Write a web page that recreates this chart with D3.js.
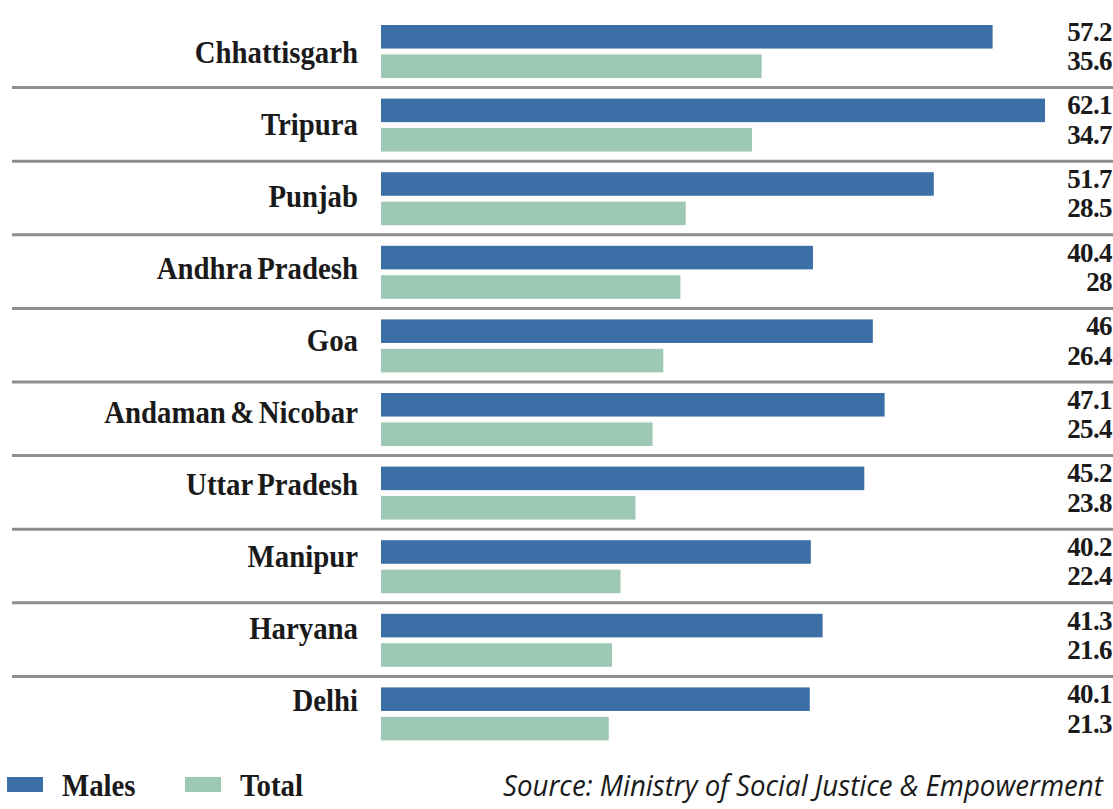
<!DOCTYPE html>
<html><head><meta charset="utf-8">
<script src="https://cdn.jsdelivr.net/npm/d3@7"></script>
<style>html,body{margin:0;padding:0;background:#fff;}svg{display:block;}</style>
</head><body>
<svg id="c" width="1113" height="809"></svg>
<script>
const categories = ["Chhattisgarh","Tripura","Punjab","Andhra Pradesh","Goa","Andaman & Nicobar","Uttar Pradesh","Manipur","Haryana","Delhi"];
const males = [57.2, 62.1, 51.7, 40.4, 46, 47.1, 45.2, 40.2, 41.3, 40.1];
const total = [35.6, 34.7, 28.5, 28, 26.4, 25.4, 23.8, 22.4, 21.6, 21.3];
const maleLabels = ["57.2","62.1","51.7","40.4","46","47.1","45.2","40.2","41.3","40.1"];
const totalLabels = ["35.6","34.7","28.5","28","26.4","25.4","23.8","22.4","21.6","21.3"];
const seriesNames = ["Males","Total"];
const source = "Source: Ministry of Social Justice & Empowerment";

const colors = {Males:"#3b6fa5", Total:"#9dc8b4"};
const svg = d3.select("#c");

const x = d3.scaleLinear().domain([0, 62.1]).range([381, 1045]);
const y0 = d3.scaleBand().domain(categories).range([15, 15 + 73.6*10]);
const y1 = d3.scaleBand().domain(seriesNames).range([10, 63]).paddingInner(0.2);
const yLab = d3.scalePoint().domain(categories).range([52, 700]);

// separators
svg.append("g").selectAll("line").data(categories.slice(1)).join("line")
  .attr("x1", 12).attr("x2", 1113)
  .attr("y1", d => y0(d) - 1).attr("y2", d => y0(d) - 1)
  .attr("stroke", "#8e8e8e").attr("stroke-width", 3);

const rows = categories.map((c,i)=>({c, vals:[{s:"Males", v:males[i], l:maleLabels[i]},{s:"Total", v:total[i], l:totalLabels[i]}]}));

const g = svg.append("g").selectAll("g").data(rows).join("g")
  .attr("transform", d => `translate(0,${y0(d.c)})`);

g.selectAll("rect").data(d => d.vals).join("rect")
  .attr("x", x(0)).attr("y", d => y1(d.s))
  .attr("width", d => x(d.v) - x(0)).attr("height", y1.bandwidth())
  .attr("fill", d => colors[d.s]);

g.selectAll("text.v").data(d => d.vals).join("text").attr("class","v")
  .attr("x", 1112).attr("y", d => y1(d.s) + y1.bandwidth()/2 + 4)
  .attr("text-anchor","end")
  .attr("font-family","Liberation Serif").attr("font-weight","bold")
  .attr("font-size", 27).attr("fill","#1a1a1a")
  .attr("letter-spacing", -0.6)
  .text(d => d.l);

// category labels
svg.append("g").selectAll("text").data(categories).join("text")
  .attr("transform", d => `translate(358,${yLab(d)+11}) scale(0.9,1)`)
  .attr("text-anchor","end")
  .attr("font-family","Liberation Serif").attr("font-weight","bold")
  .attr("font-size", 32).attr("fill","#1a1a1a")
  .attr("word-spacing", -3)
  .text(d => d);

// legend
const legX = {Males: 7, Total: 185};
const leg = svg.append("g").selectAll("g").data(seriesNames).join("g")
  .attr("transform", d => `translate(${legX[d]},777)`);
leg.append("rect").attr("width", 36).attr("height", 15).attr("fill", d => colors[d]);
leg.append("text")
  .attr("transform", "translate(55,19) scale(0.9,1)")
  .attr("font-family","Liberation Serif").attr("font-weight","bold")
  .attr("font-size", 32).attr("fill","#1a1a1a")
  .text(d => d);

const src = svg.append("text")
  .attr("font-family","Open Sans").attr("font-style","italic")
  .attr("font-size", 29).attr("fill","#1a1a1a")
  .text(source);
const w = src.node().getComputedTextLength();
src.attr("transform", `translate(503,796) scale(${600 / w},1)`);
</script>
</body></html>
